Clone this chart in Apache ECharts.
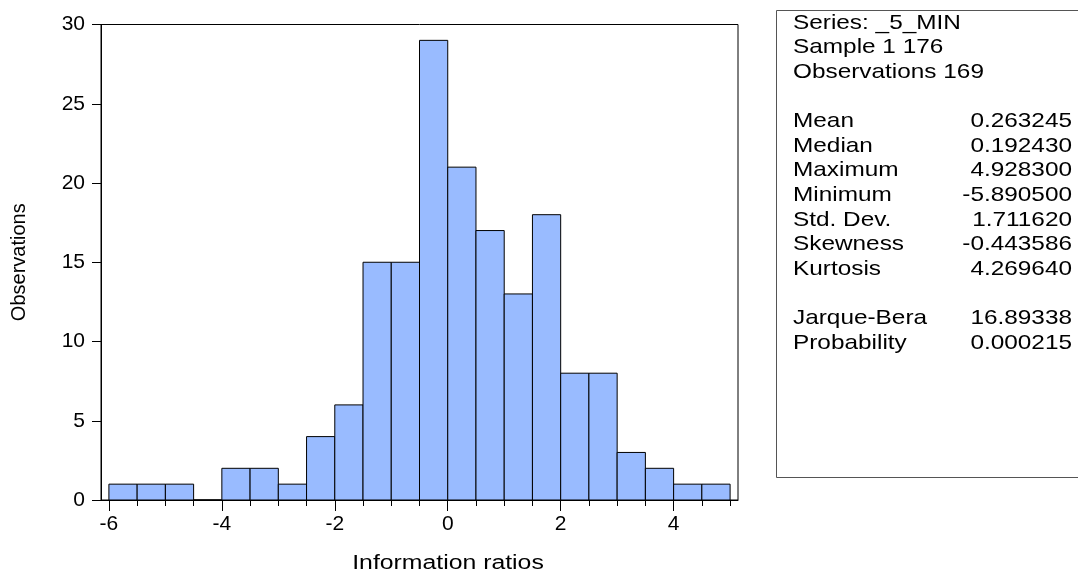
<!DOCTYPE html>
<html>
<head>
<meta charset="utf-8">
<script src="https://cdn.jsdelivr.net/npm/echarts@6/dist/echarts.min.js"></script>
<style>
html,body{margin:0;padding:0;background:#fff;}
#chart{width:1078px;height:573px;}
</style>
</head>
<body>
<div id="chart"></div>
<script>
// Histogram bins (left edges, width 0.5)
const binStarts = [-6,-5.5,-5,-4.5,-4,-3.5,-3,-2.5,-2,-1.5,-1,-0.5,0,0.5,1,1.5,2,2.5,3,3.5,4,4.5];
const binWidth = 0.5;
const counts = [1,1,1,0,2,2,1,4,6,15,15,29,21,17,13,18,8,8,3,2,1,1];
const xLabelValues = [-6,-4,-2,0,2,4];
const xTickValues = [-6,-5.5,-5,-4.5,-4,-3.5,-3,-2.5,-2,-1.5,-1,-0.5,0,0.5,1,1.5,2,2.5,3,3.5,4,4.5,5];
const xAxisTitle = 'Information ratios';
const yAxisTitle = 'Observations';
const statsHeader = ['Series: _5_MIN','Sample 1 176','Observations 169'];
const statNames = ['Mean','Median','Maximum','Minimum','Std. Dev.','Skewness','Kurtosis'];
const statValues = ['0.263245','0.192430','4.928300','-5.890500','1.711620','-0.443586','4.269640'];
const testNames = ['Jarque-Bera','Probability'];
const testValues = ['16.89338','0.000215'];

const FONT = 'Liberation Sans, Arial, sans-serif';
const FS = 21;
const SFS = 21;
const SX = 1.16;
const chart = echarts.init(document.getElementById('chart'), null, {renderer:'canvas'});

const data = binStarts.map((s,i)=>[s, s+binWidth, counts[i]]);

// Stats panel graphics
const g = [];
g.push({type:'rect', shape:{x:776.5, y:10.5, width:310, height:467}, style:{fill:'#fff', stroke:'#555', lineWidth:1}});
const lineH = 24.6;
const y0 = 23;
const leftX = 793, rightX = 1072;
function addLine(row, left, right){
  const y = y0 + row*lineH;
  g.push({type:'text', x:leftX, y:y, scaleX:SX, style:{text:left, font:SFS+'px '+FONT, fill:'#000', align:'left', verticalAlign:'middle'}});
  if(right!==undefined){
    g.push({type:'text', x:rightX, y:y, scaleX:SX, style:{text:right, font:SFS+'px '+FONT, fill:'#000', align:'right', verticalAlign:'middle'}});
  }
}
statsHeader.forEach((t,i)=>addLine(i,t));
statNames.forEach((t,i)=>addLine(4+i,t,statValues[i]));
testNames.forEach((t,i)=>addLine(12+i,t,testValues[i]));
// x-axis title (horizontally stretched like the original)
g.push({type:'text', x:448, y:563, scaleX:1.24, style:{text:xAxisTitle, font:'20px '+FONT, fill:'#000', align:'center', verticalAlign:'middle'}});

chart.setOption({
  animation:false,
  grid:{left:101, top:24.5, right:340, bottom:73, outerBoundsMode:'none', containLabel:false, show:true, borderColor:'#000', borderWidth:1, backgroundColor:'transparent'},
  xAxis:[{
    type:'value', min:-6.14, max:5.14,
    axisLine:{show:true, onZero:false, lineStyle:{color:'#000', width:1}},
    axisTick:{show:true, length:6, customValues:xTickValues, lineStyle:{color:'#000'}},
    axisLabel:{show:false},
    splitLine:{show:false}
  },{
    type:'value', min:-6.14, max:5.14, position:'bottom',
    axisLine:{show:false, onZero:false},
    axisTick:{show:true, length:11, customValues:xLabelValues, lineStyle:{color:'#000'}},
    axisLabel:{show:true, customValues:xLabelValues, margin:14, fontSize:FS, fontFamily:FONT, color:'#000'},
    splitLine:{show:false}
  }],
  yAxis:{
    type:'value', min:0, max:30, interval:5,
    name:yAxisTitle, nameLocation:'middle', nameGap:72, nameRotate:90,
    nameTextStyle:{fontSize:20, fontFamily:FONT, color:'#000'},
    axisLine:{show:true, onZero:false, lineStyle:{color:'#000'}},
    axisTick:{show:true, length:9, lineStyle:{color:'#000'}},
    axisLabel:{margin:16, fontSize:FS, fontFamily:FONT, color:'#000'},
    splitLine:{show:false}
  },
  series:[{
    type:'custom',
    xAxisIndex:0,
    renderItem:function(params, api){
      const p0 = api.coord([api.value(0), 0]);
      const p1 = api.coord([api.value(1), api.value(2)]);
      return {type:'rect', shape:{x:p0[0], y:p1[1], width:p1[0]-p0[0], height:p0[1]-p1[1]},
        style:{fill:'#99BBFF', stroke:'#000', lineWidth:1}};
    },
    encode:{x:[0,1], y:2},
    data:data
  }],
  graphic:g
});
</script>
</body>
</html>
